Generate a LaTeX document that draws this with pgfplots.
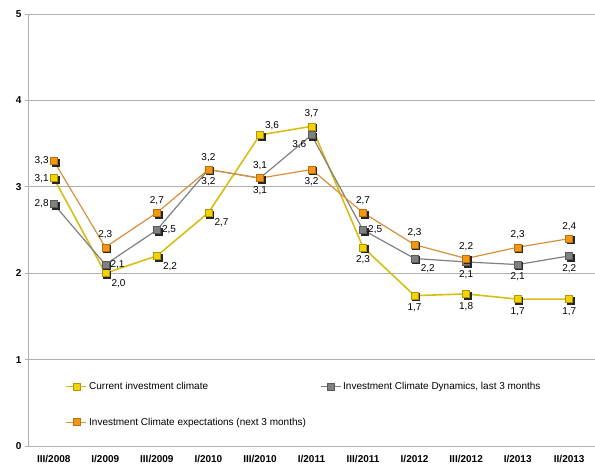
\documentclass[border=0pt]{standalone}
\usepackage{fontspec}
\setmainfont{Liberation Sans}
\usepackage{pgfplots}
\pgfplotsset{compat=1.18}
\usepackage{pgfplotstable}

\definecolor{curcol}{RGB}{245,210,0}
\definecolor{curline}{RGB}{215,190,20}
\definecolor{dyncol}{RGB}{128,128,128}
\definecolor{expcol}{RGB}{245,150,20}
\definecolor{expline}{RGB}{215,145,60}
\definecolor{gridcol}{RGB}{175,175,175}

\pgfplotstableread{
x y
0 3.1
1 2.0
2 2.2
3 2.7
4 3.6
5 3.7
6 2.3
7 1.74
8 1.76
9 1.70
10 1.70
}\cur

\pgfplotstableread{
x y
0 2.8
1 2.1
2 2.5
3 3.2
4 3.1
5 3.6
6 2.5
7 2.17
8 2.13
9 2.10
10 2.20
}\dyn

\pgfplotstableread{
x y
0 3.3
1 2.3
2 2.7
3 3.2
4 3.1
5 3.2
6 2.7
7 2.33
8 2.17
9 2.30
10 2.40
}\expt

\pgfplotsset{
  lbl/.style 2 args={forget plot, draw=none, mark=none,
    point meta=explicit symbolic,
    nodes near coords,
    nodes near coords style={font=\fontsize{10}{12}\selectfont, anchor=#1, inner sep=#2, black}},
  shadow/.style={forget plot, only marks, mark=square*, mark size=3.5pt,
    mark options={black!85, xshift=1.5pt, yshift=-1.5pt}},
}

\begin{document}
\begin{tikzpicture}
\useasboundingbox (-28pt,-22pt) rectangle (567pt,446pt);
\begin{axis}[
  width=567pt, height=432pt, scale only axis,
  xmin=-0.5, xmax=10.5, ymin=0, ymax=5,
  axis x line*=bottom, axis y line*=left,
  axis line style={gridcol, line width=0.8pt, -},
  xtick={0,...,10},
  xticklabels={III/2008,I/2009,III/2009,I/2010,III/2010,I/2011,III/2011,I/2012,III/2012,I/2013,II/2013},
  x tick style={draw=none},
  minor xtick={0.5,1.5,...,9.5},
  minor x tick style={gridcol, line width=0.8pt},
  minor tick length=4pt,
  ytick={0,...,5},
  y tick style={gridcol, line width=0.8pt},
  major tick length=3pt,
  tick align=outside,
  ymajorgrids, major grid style={gridcol, line width=0.8pt},
  tick label style={font=\bfseries\fontsize{10}{12}\selectfont},
  /pgf/number format/assume math mode=true,
  xticklabel style={yshift=-3pt},
  clip=false,
  legend columns=2,
  legend cell align=left,
  legend style={at={(0.066,0.153)}, anchor=north west, draw=none, fill=none,
    font=\fontsize{10}{12}\selectfont, inner sep=0pt,
    row sep=23pt,
    /tikz/every even column/.append style={column sep=12pt}},
  legend image code/.code={%
    \draw[mark repeat=2,mark phase=2,#1] plot coordinates {(0pt,0pt) (10pt,0pt) (20pt,0pt)};},
]
\addplot[shadow] table[x=x,y=y] {\cur};
\addplot[curline, line width=1.6pt, mark=square*, mark size=3.5pt,
  mark options={fill=curcol, draw=curline!80!black, line width=0.5pt}]
  table[x=x,y=y] {\cur};
\addlegendentry{Current investment climate}

\addplot[shadow] table[x=x,y=y] {\dyn};
\addplot[dyncol, line width=1.2pt, mark=square*, mark size=3.5pt,
  mark options={fill=dyncol, draw=dyncol!70!black, line width=0.5pt}]
  table[x=x,y=y] {\dyn};
\addlegendentry{Investment Climate Dynamics, last 3 months}

\addplot[shadow] table[x=x,y=y] {\expt};
\addplot[expline, line width=1.2pt, mark=square*, mark size=3.5pt,
  mark options={fill=expcol, draw=expcol!75!black, line width=0.5pt}]
  table[x=x,y=y] {\expt};
\addlegendentry{Investment Climate expectations (next 3 months)}

% value labels, grouped by position
\addplot[lbl={east}{5pt}] table[meta=lab] {
x y lab
0 3.1 3,1
0 2.8 2,8
0 3.3 3,3
};
\addplot[lbl={west}{5pt}] table[meta=lab] {
x y lab
1 2.1 2,1
2 2.5 2,5
6 2.5 2,5
};
\addplot[lbl={north west}{6pt}] table[meta=lab] {
x y lab
1 2.0 2,0
2 2.2 2,2
3 2.7 2,7
7 2.17 2,2
};
\addplot[lbl={south west}{5pt}] table[meta=lab] {
x y lab
4 3.6 3,6
};
\addplot[lbl={north east}{5pt}] table[meta=lab] {
x y lab
5 3.6 3,6
};
\addplot[lbl={north}{8pt}] table[meta=lab] {
x y lab
6 2.3 2,3
7 1.74 1,7
8 1.76 1,8
9 1.70 1,7
10 1.70 1,7
3 3.2 3,2
8 2.13 2,1
9 2.10 2,1
10 2.20 2,2
4 3.1 3,1
5 3.2 3,2
};
\addplot[lbl={south}{8pt}] table[meta=lab] {
x y lab
5 3.7 3,7
4 3.1 3,1
1 2.3 2,3
2 2.7 2,7
3 3.2 3,2
6 2.7 2,7
7 2.33 2,3
8 2.17 2,2
9 2.30 2,3
10 2.40 2,4
};
\end{axis}
\end{tikzpicture}
\end{document}
